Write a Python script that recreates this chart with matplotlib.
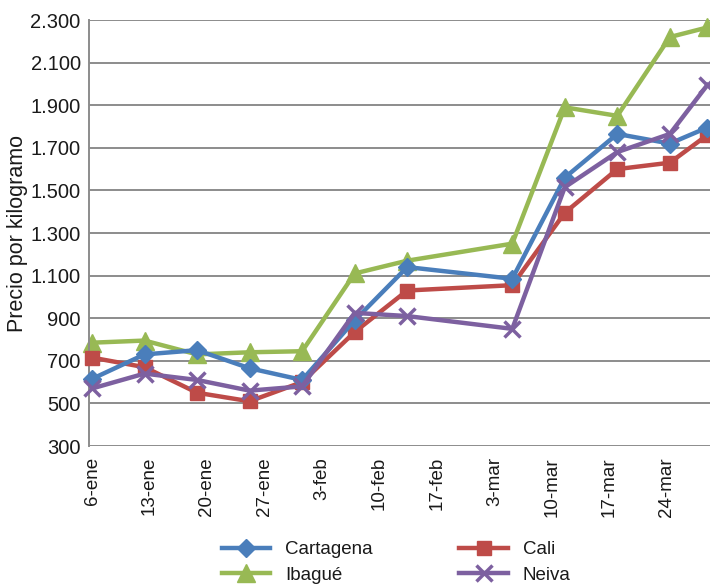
import numpy as np
import matplotlib
matplotlib.use("Agg")
import matplotlib.pyplot as plt
from matplotlib.ticker import FuncFormatter

plt.rcParams['font.family'] = ['Liberation Sans', 'DejaVu Sans']

# days since 6-ene for each observation (24-feb is missing)
days = [0, 7, 14, 21, 28, 35, 42, 56, 63, 70, 77, 82]

cartagena = [615, 730, 750, 665, 610, 890, 1140, 1085, 1560, 1765, 1720, 1795]
cali = [715, 670, 550, 510, 600, 835, 1030, 1055, 1395, 1600, 1630, 1760]
ibague = [785, 795, 730, 740, 745, 1110, 1170, 1250, 1890, 1850, 2220, 2265]
neiva = [570, 640, 610, 560, 580, 925, 910, 850, 1515, 1680, 1765, 1995]

tick_labels = ['6-ene', '13-ene', '20-ene', '27-ene', '3-feb', '10-feb',
               '17-feb', '3-mar', '10-mar', '17-mar', '24-mar']

fig = plt.figure(figsize=(7.10, 5.87), dpi=100)
ax = fig.add_axes([89 / 710, 1 - 446 / 587, 1 - 89 / 710, (446 - 20) / 587])

lw = 3.2
ax.plot(days, cartagena, color='#4A7EBB', lw=lw, marker='D', ms=9.5, label='Cartagena', clip_on=False, zorder=4)
ax.plot(days, cali, color='#BE4B48', lw=lw, marker='s', ms=10.5, label='Cali', clip_on=False, zorder=3)
ax.plot(days, ibague, color='#98B954', lw=lw, marker='^', ms=12.5, label='Ibagué', clip_on=False, zorder=2)
ax.plot(days, neiva, color='#7D60A0', lw=lw, marker='x', ms=11, mew=2.5, label='Neiva', clip_on=False, zorder=5)

ax.set_xlim(-0.4, 82.35)
ax.set_ylim(300, 2300)
ax.set_yticks(np.arange(300, 2301, 200))
ax.yaxis.set_major_formatter(FuncFormatter(lambda v, p: f'{int(v):,}'.replace(',', '.')))

# category labels are spread evenly, not on the weekly points
ax.set_xticks(np.arange(len(tick_labels)) * 7.66)
ax.set_xticklabels(tick_labels, rotation=90, fontsize=13.5)

ax.grid(axis='y', color='#8C8C8C', lw=1.4)
ax.set_axisbelow(True)
for s in ['top', 'right', 'bottom']:
    ax.spines[s].set_visible(False)
ax.spines['left'].set_color('#8C8C8C')
ax.spines['left'].set_linewidth(1.4)
ax.tick_params(axis='both', length=0, labelcolor='#1a1a1a')
ax.tick_params(axis='y', labelsize=14.5, pad=6)
ax.tick_params(axis='x', pad=8)

ax.set_ylabel('Precio por kilogramo', fontsize=15.5, color='#1a1a1a', labelpad=1.5)

handles, labels = ax.get_legend_handles_labels()
order = [0, 2, 1, 3]
leg = fig.legend([handles[i] for i in order], [labels[i] for i in order],
                 loc='center', bbox_to_anchor=(0.558, 0.042), ncol=2, frameon=False,
                 fontsize=13.5, handlelength=2.6, columnspacing=4.6, labelspacing=0.45,
                 handletextpad=0.8)
for t in leg.get_texts():
    t.set_color('#1a1a1a')

fig.savefig('out.png', dpi=100)
